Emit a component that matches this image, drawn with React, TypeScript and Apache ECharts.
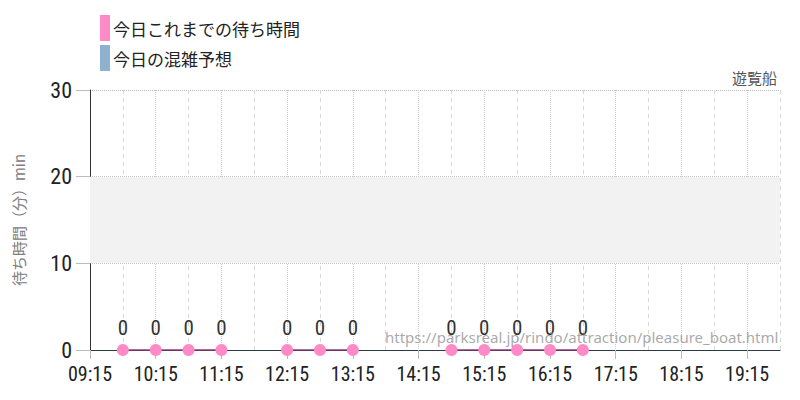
import React, { useRef, useEffect } from 'react';
import * as echarts from 'echarts';

// half-hour slots shown on the x axis
const TIMES = [
  '09:15', '09:45', '10:15', '10:45', '11:15', '11:45', '12:15', '12:45',
  '13:15', '13:45', '14:15', '14:45', '15:15', '15:45', '16:15', '16:45',
  '17:15', '17:45', '18:15', '18:45', '19:15', '19:45',
];

// today's wait so far (minutes); null = no report
const WAIT_TODAY: (number | null)[] = [
  null, 0, 0, 0, 0, null, 0, 0, 0, null, null, 0, 0, 0, 0, 0,
  null, null, null, null, null, null,
];

// forecast is empty on this day
const FORECAST: (number | null)[] = [];

const Y_TICKS = [0, 10, 20, 30];
const BAND = [10, 20];

const NUM_FONT = "'Roboto Condensed', 'Liberation Sans Narrow', 'DejaVu Sans Condensed', 'Roboto', sans-serif";
const JP_FONT = "'Noto Sans CJK JP', 'Noto Sans', sans-serif";

export default function App() {
  const chartRef = useRef<HTMLDivElement>(null);

  useEffect(() => {
    document.body.style.margin = '0';
    if (!chartRef.current) return;
    const chart = echarts.init(chartRef.current, undefined, { renderer: 'svg' });

    const option = {
      animation: false,
      backgroundColor: '#ffffff',
      title: {
        text: '遊覧船',
        right: 18,
        top: 65,
        textStyle: { fontFamily: JP_FONT, fontSize: 15, fontWeight: 'normal', color: '#555' },
      },
      legend: {
        orient: 'vertical',
        left: 95,
        top: 10,
        itemWidth: 10,
        itemHeight: 26,
        itemGap: 4,
        icon: 'rect',
        textStyle: { fontFamily: JP_FONT, fontSize: 17, color: '#222', padding: [0, 0, 0, -2] },
        data: ['今日これまでの待ち時間', '今日の混雑予想'],
      },
      grid: { left: 90, right: 20, top: 90, bottom: 50 },
      xAxis: [
        {
          type: 'category',
          data: TIMES,
          boundaryGap: false,
          axisLine: { lineStyle: { color: '#2b3a4a', width: 1 } },
          axisTick: { interval: 1, length: 9, lineStyle: { color: '#bbb' } },
          axisLabel: { interval: 1, fontFamily: NUM_FONT, fontSize: 20, color: '#222', margin: 14 },
          splitLine: {
            show: true,
            interval: (i: number) => i % 2 === 0,
            lineStyle: { color: '#ccc', type: 'dotted' },
          },
        },
        {
          type: 'category',
          data: TIMES,
          boundaryGap: false,
          position: 'bottom',
          axisLine: { show: false },
          axisTick: { show: false },
          axisLabel: { show: false },
          splitLine: {
            show: true,
            interval: (i: number) => i % 2 === 1,
            lineStyle: { color: '#d8d8d8', type: [4, 4] },
          },
        },
      ],
      yAxis: {
        type: 'value',
        min: Y_TICKS[0],
        max: Y_TICKS[Y_TICKS.length - 1],
        interval: 10,
        name: '待ち時間（分）min',
        nameLocation: 'middle',
        nameGap: 64,
        nameTextStyle: { fontFamily: JP_FONT, fontSize: 15, color: '#808080' },
        axisLine: { show: true, lineStyle: { color: '#333' } },
        axisTick: { show: true, length: 14, lineStyle: { color: '#bbb' } },
        axisLabel: { fontFamily: NUM_FONT, fontSize: 22, color: '#222', margin: 18 },
        splitLine: { lineStyle: { color: '#bbb', type: 'dotted' } },
      },
      graphic: [
        {
          type: 'text',
          left: 385,
          top: 329,
          silent: true,
          style: {
            text: 'https://parksreal.jp/rindo/attraction/pleasure_boat.html',
            fontFamily: "'Noto Sans', sans-serif",
            fontSize: 15,
            fill: 'rgba(140,140,140,0.75)',
          },
          z: 10,
        },
      ],
      series: [
        {
          name: '今日これまでの待ち時間',
          type: 'line',
          data: WAIT_TODAY,
          connectNulls: false,
          symbol: 'circle',
          symbolSize: 12,
          itemStyle: { color: '#ff8ac8' },
          lineStyle: { color: '#9a3a7a', width: 1.5 },
          label: {
            show: true,
            position: 'top',
            distance: 6,
            fontFamily: NUM_FONT,
            fontSize: 21,
            color: '#333',
          },
          markArea: {
            silent: true,
            itemStyle: { color: '#f2f2f2' },
            data: [[{ yAxis: BAND[0] }, { yAxis: BAND[1] }]],
          },
          z: 3,
        },
        {
          name: '今日の混雑予想',
          type: 'bar',
          data: FORECAST,
          itemStyle: { color: '#8fb1d0' },
        },
      ],
    };

    chart.setOption(option);
    return () => chart.dispose();
  }, []);

  return <div ref={chartRef} style={{ width: 800, height: 400 }} />;
}
